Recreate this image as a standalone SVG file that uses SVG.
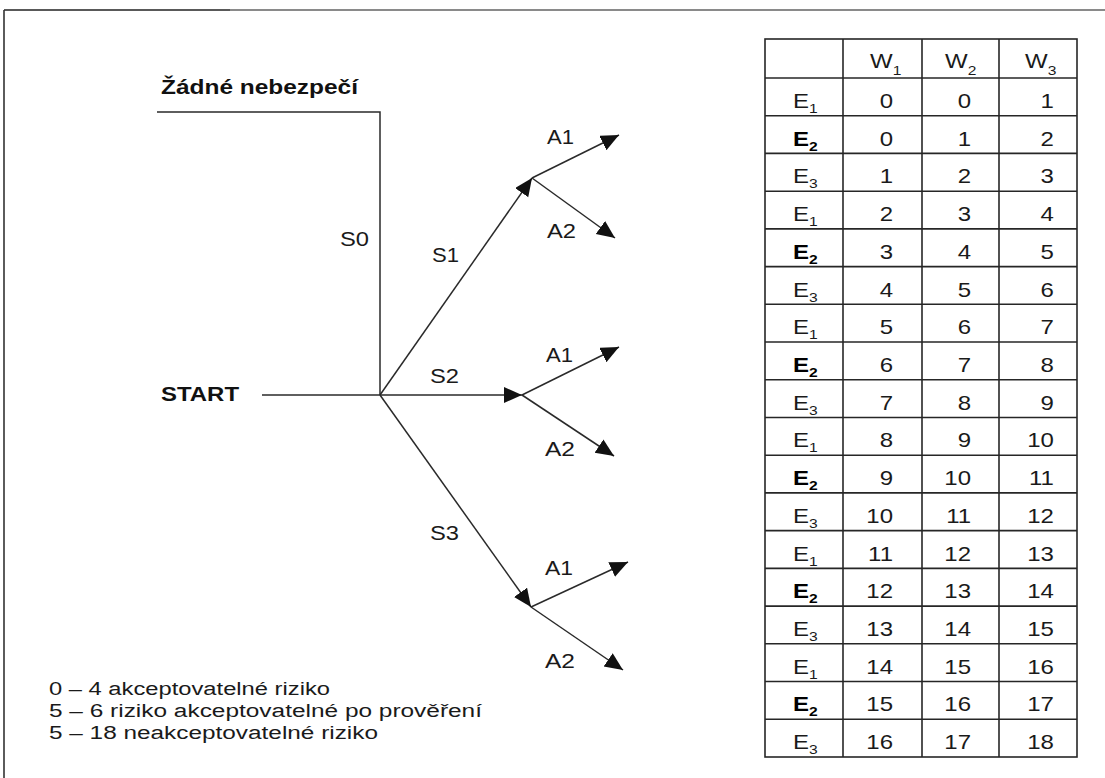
<svg xmlns="http://www.w3.org/2000/svg" width="1105" height="778" viewBox="0 0 1105 778">
  <style>
    .lbl { font-family: "Liberation Sans", Arial, sans-serif; font-size: 20px; fill: #1a1a1a; }
    .bold { font-weight: bold; font-size: 21px; fill: #111; }
    .leg { font-family: "Liberation Sans", Arial, sans-serif; font-size: 18px; fill: #1a1a1a; }
    .conn { fill: none; stroke: #2a2a2a; stroke-width: 1.5; }
    .grid { stroke: #262626; stroke-width: 1.6; fill: none; }
    .cell { font-family: "Liberation Sans", Arial, sans-serif; font-size: 20px; fill: #1a1a1a; }
    .num { text-anchor: end; }
    .b { font-weight: bold; fill: #000; }
    .sub { font-size: 13px; }
  </style>
  <defs>
    <marker id="arrow" markerUnits="userSpaceOnUse" markerWidth="19" markerHeight="17" refX="18" refY="8" orient="auto">
      <path d="M0,0 L18,8 L0,16 z" fill="#111"/>
    </marker>
  </defs>
  <rect width="1105" height="778" fill="#ffffff"/>

  <!-- outer frame: top and left edge only -->
  <g id="frame">
    <line x1="4" y1="10" x2="230" y2="10" stroke="#222" stroke-width="1.6"/>
    <line x1="230" y1="10" x2="1105" y2="10" stroke="#8a8a8a" stroke-width="2"/>
    <line x1="4" y1="10" x2="4" y2="778" stroke="#333" stroke-width="1.6"/>
  </g>

  <!-- decision tree connectors -->
  <g id="connectors">
    <polyline class="conn" points="157,112 380,112 380,395"/>
    <line class="conn" x1="262" y1="395" x2="380" y2="395"/>
    <line class="conn" x1="380" y1="395" x2="532" y2="178" marker-end="url(#arrow)"/>
    <line class="conn" x1="380" y1="395" x2="522" y2="395" marker-end="url(#arrow)"/>
    <line class="conn" x1="380" y1="395" x2="531" y2="607" marker-end="url(#arrow)"/>
    <line class="conn" x1="532" y1="178" x2="619" y2="135" marker-end="url(#arrow)"/>
    <line class="conn" x1="532" y1="178" x2="615" y2="238" marker-end="url(#arrow)"/>
    <line class="conn" x1="522" y1="395" x2="619" y2="347" marker-end="url(#arrow)"/>
    <line class="conn" x1="522" y1="395" x2="614" y2="456" marker-end="url(#arrow)"/>
    <line class="conn" x1="531" y1="607" x2="628" y2="562" marker-end="url(#arrow)"/>
    <line class="conn" x1="531" y1="607" x2="623" y2="670" marker-end="url(#arrow)"/>
  </g>

  <!-- tree labels -->
  <g id="node-no-danger"><text class="lbl bold" x="161" y="94" textLength="197" lengthAdjust="spacingAndGlyphs">Žádné nebezpečí</text></g>
  <g id="node-start"><text class="lbl bold" x="161" y="401" textLength="78" lengthAdjust="spacingAndGlyphs">START</text></g>
  <g id="label-s0"><text class="lbl" x="340" y="246" textLength="29" lengthAdjust="spacingAndGlyphs">S0</text></g>
  <g id="label-s1"><text class="lbl" x="432" y="262" textLength="27" lengthAdjust="spacingAndGlyphs">S1</text></g>
  <g id="label-s2"><text class="lbl" x="430" y="383" textLength="29" lengthAdjust="spacingAndGlyphs">S2</text></g>
  <g id="label-s3"><text class="lbl" x="430" y="540" textLength="29" lengthAdjust="spacingAndGlyphs">S3</text></g>
  <g id="label-s1-a1"><text class="lbl" x="547" y="144" textLength="27" lengthAdjust="spacingAndGlyphs">A1</text></g>
  <g id="label-s1-a2"><text class="lbl" x="547" y="238" textLength="29" lengthAdjust="spacingAndGlyphs">A2</text></g>
  <g id="label-s2-a1"><text class="lbl" x="546" y="362" textLength="27" lengthAdjust="spacingAndGlyphs">A1</text></g>
  <g id="label-s2-a2"><text class="lbl" x="545" y="456" textLength="30" lengthAdjust="spacingAndGlyphs">A2</text></g>
  <g id="label-s3-a1"><text class="lbl" x="545" y="575" textLength="28" lengthAdjust="spacingAndGlyphs">A1</text></g>
  <g id="label-s3-a2"><text class="lbl" x="545" y="668" textLength="30" lengthAdjust="spacingAndGlyphs">A2</text></g>

  <!-- legend -->
  <g id="legend">
    <text class="leg" x="49" y="695" textLength="281" lengthAdjust="spacingAndGlyphs">0 – 4 akceptovatelné riziko</text>
    <text class="leg" x="49" y="717" textLength="433" lengthAdjust="spacingAndGlyphs">5 – 6 riziko akceptovatelné po prověření</text>
    <text class="leg" x="49" y="739" textLength="329" lengthAdjust="spacingAndGlyphs">5 – 18 neakceptovatelné riziko</text>
  </g>

  <!-- risk matrix -->
  <g id="matrix">
    <g class="grid">
      <rect x="765" y="39" width="312" height="718"/>
      <line x1="843" y1="39" x2="843" y2="757"/>
      <line x1="922" y1="39" x2="922" y2="757"/>
      <line x1="999" y1="39" x2="999" y2="757"/>
      <line x1="765" y1="78" x2="1077" y2="78"/>
      <line x1="765" y1="115.7" x2="1077" y2="115.7"/>
      <line x1="765" y1="153.4" x2="1077" y2="153.4"/>
      <line x1="765" y1="191.2" x2="1077" y2="191.2"/>
      <line x1="765" y1="228.9" x2="1077" y2="228.9"/>
      <line x1="765" y1="266.6" x2="1077" y2="266.6"/>
      <line x1="765" y1="304.3" x2="1077" y2="304.3"/>
      <line x1="765" y1="342" x2="1077" y2="342"/>
      <line x1="765" y1="379.8" x2="1077" y2="379.8"/>
      <line x1="765" y1="417.5" x2="1077" y2="417.5"/>
      <line x1="765" y1="455.2" x2="1077" y2="455.2"/>
      <line x1="765" y1="492.9" x2="1077" y2="492.9"/>
      <line x1="765" y1="530.6" x2="1077" y2="530.6"/>
      <line x1="765" y1="568.4" x2="1077" y2="568.4"/>
      <line x1="765" y1="606.1" x2="1077" y2="606.1"/>
      <line x1="765" y1="643.8" x2="1077" y2="643.8"/>
      <line x1="765" y1="681.5" x2="1077" y2="681.5"/>
      <line x1="765" y1="719.2" x2="1077" y2="719.2"/>
    </g>
    <!-- cell text, drawn in a horizontally stretched frame (x values are divided by 1.2) -->
    <g class="cell" transform="scale(1.2,1)">
      <text x="725" y="68">W<tspan class="sub" dy="7">1</tspan></text>
      <text x="787.5" y="68">W<tspan class="sub" dy="7">2</tspan></text>
      <text x="854.2" y="68">W<tspan class="sub" dy="7">3</tspan></text>

      <text x="660.8" y="108">E<tspan class="sub" dy="5">1</tspan></text>
      <text x="660.8" y="145.7" class="b">E<tspan class="sub" dy="5">2</tspan></text>
      <text x="660.8" y="183.4">E<tspan class="sub" dy="5">3</tspan></text>
      <text x="660.8" y="221.2">E<tspan class="sub" dy="5">1</tspan></text>
      <text x="660.8" y="258.9" class="b">E<tspan class="sub" dy="5">2</tspan></text>
      <text x="660.8" y="296.6">E<tspan class="sub" dy="5">3</tspan></text>
      <text x="660.8" y="334.3">E<tspan class="sub" dy="5">1</tspan></text>
      <text x="660.8" y="372" class="b">E<tspan class="sub" dy="5">2</tspan></text>
      <text x="660.8" y="409.8">E<tspan class="sub" dy="5">3</tspan></text>
      <text x="660.8" y="447.5">E<tspan class="sub" dy="5">1</tspan></text>
      <text x="660.8" y="485.2" class="b">E<tspan class="sub" dy="5">2</tspan></text>
      <text x="660.8" y="522.9">E<tspan class="sub" dy="5">3</tspan></text>
      <text x="660.8" y="560.6">E<tspan class="sub" dy="5">1</tspan></text>
      <text x="660.8" y="598.4" class="b">E<tspan class="sub" dy="5">2</tspan></text>
      <text x="660.8" y="636.1">E<tspan class="sub" dy="5">3</tspan></text>
      <text x="660.8" y="673.8">E<tspan class="sub" dy="5">1</tspan></text>
      <text x="660.8" y="711.5" class="b">E<tspan class="sub" dy="5">2</tspan></text>
      <text x="660.8" y="749.2">E<tspan class="sub" dy="5">3</tspan></text>

      <g class="num">
        <text x="744.2" y="108">0</text><text x="809.2" y="108">0</text><text x="878.3" y="108">1</text>
        <text x="744.2" y="145.7">0</text><text x="809.2" y="145.7">1</text><text x="878.3" y="145.7">2</text>
        <text x="744.2" y="183.4">1</text><text x="809.2" y="183.4">2</text><text x="878.3" y="183.4">3</text>
        <text x="744.2" y="221.2">2</text><text x="809.2" y="221.2">3</text><text x="878.3" y="221.2">4</text>
        <text x="744.2" y="258.9">3</text><text x="809.2" y="258.9">4</text><text x="878.3" y="258.9">5</text>
        <text x="744.2" y="296.6">4</text><text x="809.2" y="296.6">5</text><text x="878.3" y="296.6">6</text>
        <text x="744.2" y="334.3">5</text><text x="809.2" y="334.3">6</text><text x="878.3" y="334.3">7</text>
        <text x="744.2" y="372">6</text><text x="809.2" y="372">7</text><text x="878.3" y="372">8</text>
        <text x="744.2" y="409.8">7</text><text x="809.2" y="409.8">8</text><text x="878.3" y="409.8">9</text>
        <text x="744.2" y="447.5">8</text><text x="809.2" y="447.5">9</text><text x="878.3" y="447.5">10</text>
        <text x="744.2" y="485.2">9</text><text x="809.2" y="485.2">10</text><text x="878.3" y="485.2">11</text>
        <text x="744.2" y="522.9">10</text><text x="809.2" y="522.9">11</text><text x="878.3" y="522.9">12</text>
        <text x="744.2" y="560.6">11</text><text x="809.2" y="560.6">12</text><text x="878.3" y="560.6">13</text>
        <text x="744.2" y="598.4">12</text><text x="809.2" y="598.4">13</text><text x="878.3" y="598.4">14</text>
        <text x="744.2" y="636.1">13</text><text x="809.2" y="636.1">14</text><text x="878.3" y="636.1">15</text>
        <text x="744.2" y="673.8">14</text><text x="809.2" y="673.8">15</text><text x="878.3" y="673.8">16</text>
        <text x="744.2" y="711.5">15</text><text x="809.2" y="711.5">16</text><text x="878.3" y="711.5">17</text>
        <text x="744.2" y="749.2">16</text><text x="809.2" y="749.2">17</text><text x="878.3" y="749.2">18</text>
      </g>
    </g>
  </g>
</svg>
